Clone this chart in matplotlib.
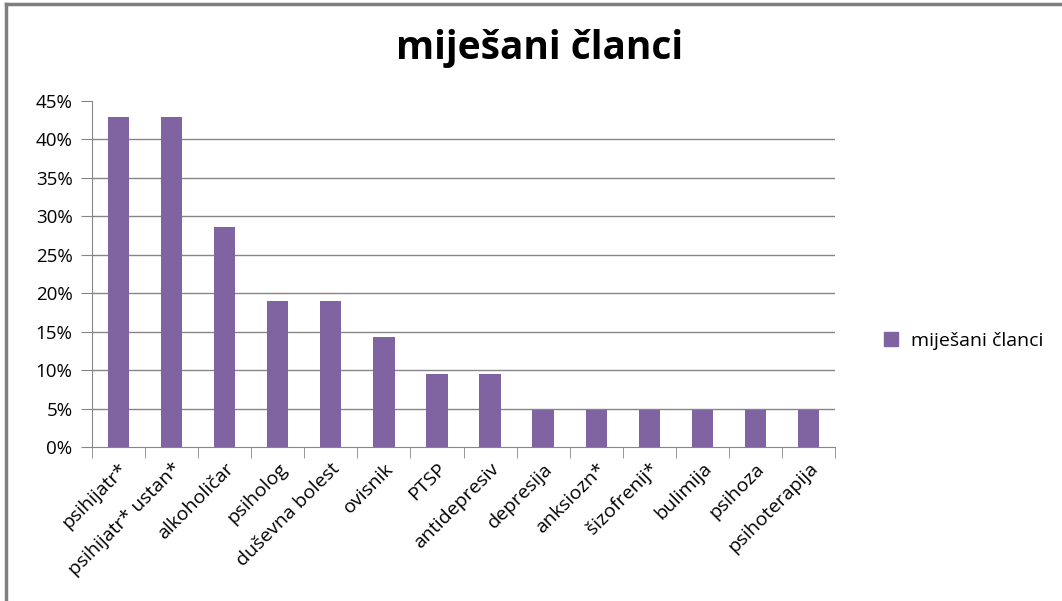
import numpy as np
import matplotlib.pyplot as plt
from matplotlib.lines import Line2D
from matplotlib.ticker import FuncFormatter

# Kategorije i udjeli (u postocima)
categories = ['psihijatr*', 'psihijatr* ustan*', 'alkoholičar', 'psiholog',
              'duševna bolest', 'ovisnik', 'PTSP', 'antidepresiv', 'depresija',
              'anksiozn*', 'šizofrenij*', 'bulimija', 'psihoza', 'psihoterapija']
values = [42.86, 42.86, 28.57, 19.05, 19.05, 14.29, 9.52, 9.52,
          4.76, 4.76, 4.76, 4.76, 4.76, 4.76]
series_name = 'miješani članci'
title = 'miješani članci'

plt.rcParams['font.family'] = ['Open Sans', 'DejaVu Sans']

bar_color = '#8064A2'
grid_color = '#868686'

fig = plt.figure(figsize=(10.62, 6.01), dpi=100)
ax = fig.add_axes([92/1062, 1 - 447/601, (835 - 92)/1062, (447 - 101)/601])

x = np.arange(len(categories))
ax.bar(x, values, width=0.4, color=bar_color, zorder=3, label=series_name)

ax.set_xlim(-0.5, len(categories) - 0.5)
ax.set_ylim(0, 45)
ax.set_yticks(np.arange(0, 50, 5))
ax.yaxis.set_major_formatter(FuncFormatter(lambda v, p: f'{int(v)}%'))

# mreža bez gornje linije
for yv in np.arange(5, 45, 5):
    ax.axhline(yv, color=grid_color, lw=1, zorder=1)

for s in ['top', 'right']:
    ax.spines[s].set_visible(False)
ax.spines['left'].set_color(grid_color)
ax.spines['bottom'].set_color(grid_color)

ax.set_xticks(x)
ax.set_xticklabels(categories, rotation=45, ha='right', rotation_mode='anchor', fontsize=14)
ax.set_xticks(np.arange(-0.5, len(categories), 1), minor=True)
ax.tick_params(axis='x', which='major', length=0, pad=9)
ax.tick_params(axis='x', which='minor', length=8, color=grid_color, direction='out')
ax.tick_params(axis='y', length=8, color=grid_color, labelsize=13.5, pad=6)

fig.text(540/1062, 1 - 48/601, title, ha='center', va='center',
         fontsize=28, fontweight='bold')

handle = Line2D([], [], marker='s', color=bar_color, linestyle='none', markersize=10)
fig.legend([handle], [series_name], loc='center left',
           bbox_to_anchor=(862/1062, 1 - 341/601), frameon=False,
           fontsize=14, handletextpad=0.0, borderpad=0)

# okvir grafa
fig.add_artist(Line2D([6/1062, 6/1062], [0, 1 - 4/601], color='#7f7f7f', lw=2.5))
fig.add_artist(Line2D([6/1062, 1], [1 - 4/601, 1 - 4/601], color='#7f7f7f', lw=2.5))

fig.savefig('out.png', dpi=100)
